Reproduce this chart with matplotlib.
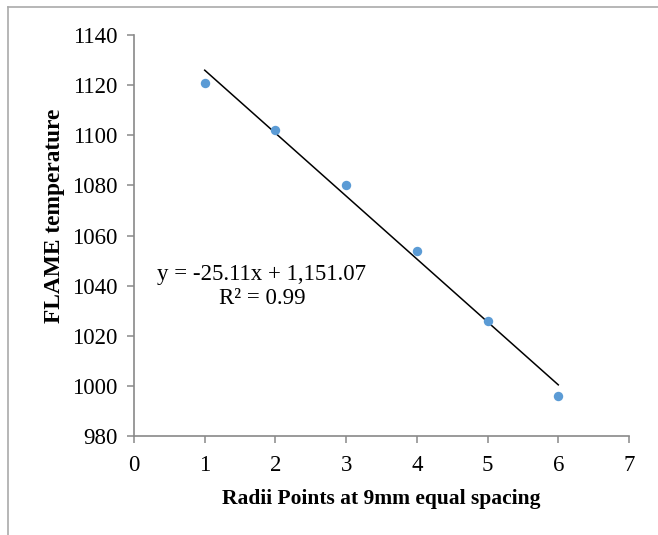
import numpy as np
import matplotlib.pyplot as plt
from matplotlib.lines import Line2D

plt.rcParams['font.family'] = ['Liberation Serif', 'DejaVu Serif']

radii = [1, 2, 3, 4, 5, 6]
temps = [1121, 1102, 1080, 1054, 1026, 996]
slope = -25.11
intercept = 1151.07
r2 = 0.99

fig = plt.figure(figsize=(6.58, 5.35), dpi=100)
ax = fig.add_axes([134/658, 1 - 436/535, (629-134)/658, (436-35)/535])

ax.scatter(radii, temps, s=46, color='#5B9BD5', zorder=3, linewidths=0)
xs = np.array([radii[0], radii[-1]])
ax.plot(xs, slope*xs + intercept, color='black', lw=1.1, zorder=2)

ax.text(1.81, 1044.5, 'y = -25.11x + 1,151.07', ha='center', va='center', fontsize=16.5)
ax.text(1.81, 1035.0, 'R² = %.2f' % r2, ha='center', va='center', fontsize=16.5)

ax.set_xlim(0, 7)
ax.set_ylim(980, 1140)
ax.set_xticks(range(0, 8))
ax.set_yticks(range(980, 1141, 20))
for s in ['top', 'right']:
    ax.spines[s].set_visible(False)
for s in ['left', 'bottom']:
    ax.spines[s].set_color('#898989')
    ax.spines[s].set_linewidth(1.2)
ax.tick_params(direction='out', length=5, width=1.1, color='#898989', labelsize=16.5, pad=7)
ax.tick_params(axis='x', pad=9)

ax.set_xlabel('Radii Points at 9mm equal spacing', fontsize=15.5, fontweight='bold', labelpad=9)
ax.set_ylabel('FLAME temperature', fontsize=16.8, fontweight='bold')
ax.yaxis.set_label_coords(-0.139, 0.549)

# outer chart frame
fig.add_artist(Line2D([7.5/658, 1], [1 - 6.5/535, 1 - 6.5/535], color='#aaaaaa', lw=1.2))
fig.add_artist(Line2D([7.5/658, 7.5/658], [0, 1 - 6.5/535], color='#aaaaaa', lw=1.2))

fig.savefig('out.png', dpi=100)
